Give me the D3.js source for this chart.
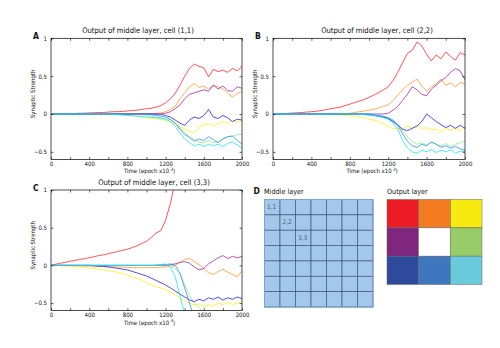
<!DOCTYPE html>
<html>
<head>
<meta charset="utf-8">
<script src="https://cdn.jsdelivr.net/npm/d3@7"></script>
<style>
  body { margin: 0; background: #fff; }
  svg text { font-family: "Liberation Sans Narrow", "DejaVu Sans Condensed", "Arial Narrow", sans-serif; fill: #111; }
</style>
</head>
<body>
<div id="fig"></div>
<script>
var width = 500;
var height = 348;

// sampling of the training run (epochs)
var epochs = [0,50,100,150,200,250,300,350,400,450,
              500,550,600,650,700,750,800,850,900,950,
              1000,1050,1100,1150,1200,1250,1300,1350,1400,1450,
              1500,1550,1600,1650,1700,1750,1800,1850,1900,1950,2000];

// one line per output-layer cell (red, orange, yellow, purple, green, dark blue, blue, cyan)
var lineColors = ["#ff2b2b", "#ff9a30", "#ffee20", "#9a30a8", "#8ee88e", "#2222e6", "#3090f4", "#20e4ee"];

// ---- cell (1,1)
var redA = [0,0,0,0,0.005,0.005,0.01,0.01,0.015,0.015,
            0.02,0.02,0.025,0.03,0.03,0.035,0.04,0.045,0.05,0.06,
            0.07,0.075,0.09,0.11,0.15,0.2,0.27,0.38,0.5,0.6,
            0.66,0.63,0.61,0.49,0.59,0.56,0.58,0.55,0.6,0.57,0.63];
var orangeA = [0,0,0,0,0,0,0,0,0,0,
               0,0,0,0,0,0,0,0,0,0.005,
               0.005,0.005,0.01,0.015,0.03,0.06,0.1,0.2,0.28,0.36,
               0.4,0.35,0.37,0.33,0.38,0.36,0.33,0.28,0.22,0.27,0.3];
var yellowA = [0,0,0,0,0,0,0,0,0,0,
               0,0,0,0,0,-0.005,-0.01,-0.02,-0.03,-0.04,
               -0.05,-0.06,-0.06,-0.07,-0.09,-0.1,-0.13,-0.17,-0.2,-0.23,
               -0.25,-0.18,-0.14,-0.13,-0.16,-0.12,-0.1,-0.12,-0.08,-0.11,-0.09];
var purpleA = [0,0,0,0,0,0,0,0,0,0,
               0,0,0,0,0,0,0,0,0,0,
               0,0,0,0,0.01,0.03,0.07,0.12,0.2,0.26,
               0.28,0.3,0.32,0.3,0.38,0.33,0.37,0.31,0.3,0.36,0.34];
var greenA = [0,0,0,0,0,0,0,0,0,0,
              0,0,0,0,0,0,0,0,0,-0.01,
              -0.02,-0.03,-0.04,-0.05,-0.06,-0.08,-0.12,-0.18,-0.25,-0.3,
              -0.34,-0.37,-0.38,-0.35,-0.38,-0.36,-0.33,-0.3,-0.3,-0.27,-0.27];
var blueA = [0,0,0,0,0,0,0,0,0,0,
             0,0,0,0,0,0,0,0,0,0,
             0,0,0,-0.005,-0.02,-0.04,-0.08,-0.12,-0.15,-0.08,
             -0.04,-0.06,-0.02,0.06,-0.04,-0.06,-0.02,-0.05,-0.1,-0.07,-0.08];
var skyA = [0,0,0,0,0,0,0,0,0,0,
            0,0,0,0,0,0,0,0,0,0,
            0,-0.01,-0.02,-0.03,-0.04,-0.07,-0.12,-0.2,-0.27,-0.31,
            -0.36,-0.33,-0.35,-0.3,-0.34,-0.38,-0.33,-0.3,-0.29,-0.35,-0.4];
var cyanA = [0,0,0,0,0,0,0,0,0,0,
             0,0,0,-0.005,-0.01,-0.015,-0.02,-0.025,-0.03,-0.035,
             -0.04,-0.045,-0.05,-0.06,-0.07,-0.1,-0.16,-0.25,-0.33,-0.38,
             -0.42,-0.4,-0.43,-0.4,-0.42,-0.4,-0.43,-0.39,-0.37,-0.41,-0.45];

// ---- cell (2,2)
var redB = [0,0.002,0.005,0.008,0.012,0.016,0.02,0.025,0.03,0.035,
            0.045,0.055,0.07,0.08,0.09,0.11,0.13,0.15,0.17,0.19,
            0.22,0.25,0.28,0.32,0.36,0.44,0.55,0.68,0.8,0.84,
            0.95,0.9,0.79,0.7,0.78,0.73,0.82,0.76,0.71,0.81,0.78];
var orangeB = [0,0,0,0,0,0,0,0,0,0,
               0,0,0,0,0,0,0.01,0.02,0.03,0.04,
               0.05,0.06,0.08,0.1,0.12,0.18,0.25,0.32,0.38,0.42,
               0.46,0.37,0.3,0.36,0.4,0.46,0.38,0.41,0.36,0.42,0.39];
var yellowB = [0,0,0,0,0,0,0,0,0,0,
               0,-0.005,-0.01,-0.01,-0.015,-0.02,-0.025,-0.03,-0.04,-0.05,
               -0.07,-0.08,-0.1,-0.13,-0.16,-0.2,-0.19,-0.2,-0.16,-0.19,
               -0.14,-0.2,-0.18,-0.21,-0.2,-0.24,-0.19,-0.22,-0.18,-0.22,-0.17];
var purpleB = [0,0,0,0,0,0,0,0,0,0,
               0,0,0,0,0,0,0,0,0,0,
               0,0,0,0,0.01,0.05,0.1,0.18,0.26,0.36,
               0.32,0.26,0.24,0.33,0.38,0.44,0.48,0.55,0.6,0.57,0.45];
var greenB = [0,0,0,0,0,0,0,0,0,0,
              0,0,0,0,0,0,0,0,0,0,
              0,-0.01,-0.02,-0.04,-0.06,-0.09,-0.14,-0.22,-0.3,-0.36,
              -0.4,-0.38,-0.41,-0.37,-0.4,-0.42,-0.39,-0.43,-0.4,-0.38,-0.36];
var blueB = [0,0,0,0,0,0,0,0,0,0,
             0,0,0,0,0,0,0,0,0,-0.005,
             -0.01,-0.02,-0.03,-0.04,-0.06,-0.1,-0.15,-0.2,-0.22,-0.19,
             -0.16,-0.1,0.0,-0.05,-0.1,-0.14,-0.18,-0.15,-0.19,-0.15,-0.19];
var skyB = [0,0,0,0,0,0,0,0,0,0,
            0,0,0,0,0,0,0,0,0,0,
            0,-0.01,-0.02,-0.03,-0.05,-0.08,-0.15,-0.26,-0.36,-0.42,
            -0.44,-0.4,-0.42,-0.37,-0.4,-0.44,-0.42,-0.45,-0.43,-0.46,-0.48];
var cyanB = [0,0,0,0,0,0,0,0,0,0,
             0,0,0,0,0,0,0,0,0,-0.01,
             -0.015,-0.02,-0.03,-0.05,-0.07,-0.12,-0.2,-0.35,-0.45,-0.5,
             -0.52,-0.48,-0.5,-0.47,-0.51,-0.48,-0.5,-0.47,-0.52,-0.49,-0.5];

// ---- cell (3,3)  (NaN = line has left the axes)
var redC = [0,0.015,0.03,0.04,0.055,0.065,0.08,0.09,0.1,0.115,
            0.13,0.14,0.155,0.17,0.185,0.2,0.215,0.235,0.26,0.29,
            0.32,0.37,0.43,0.46,0.6,0.82,1.12,NaN,NaN,NaN,
            NaN,NaN,NaN,NaN,NaN,NaN,NaN,NaN,NaN,NaN,NaN];
var orangeC = [0,0,0,0,0,-0.005,-0.005,-0.01,-0.01,-0.01,
               -0.015,-0.015,-0.02,-0.02,-0.02,-0.025,-0.025,-0.03,-0.03,-0.03,
               -0.03,-0.03,-0.03,-0.025,-0.02,-0.01,0,0.04,0.08,0.09,
               0.05,0.01,-0.04,-0.1,-0.12,-0.08,-0.05,-0.09,-0.12,-0.15,-0.07];
var yellowC = [0,-0.002,-0.005,-0.008,-0.012,-0.017,-0.022,-0.028,-0.035,-0.043,
               -0.05,-0.06,-0.07,-0.08,-0.095,-0.11,-0.13,-0.15,-0.17,-0.2,
               -0.23,-0.26,-0.28,-0.3,-0.32,-0.35,-0.39,-0.43,-0.47,-0.5,
               -0.53,-0.51,-0.55,-0.52,-0.54,-0.5,-0.52,-0.49,-0.52,-0.5,-0.48];
var purpleC = [0,0,0,0,0,0,0,0,0,0,
               0,0,0,0,0,0,0,0,0,0,
               0,0,0,0,0,0.01,0.02,0.04,0.05,0.03,
               -0.02,-0.06,-0.04,0.02,0.06,0.1,0.13,0.09,0.12,0.1,0.12];
var greenC = [0,0,0,0,0,0,0,0,0,0,
              0,0,0,0,0,0,0,0,0,0,
              0,0,0,0.005,0.01,0,-0.04,-0.12,-0.25,-0.4,
              -0.5,-0.56,-0.62,-0.68,NaN,NaN,NaN,NaN,NaN,NaN,NaN];
var blueC = [0,0,0,0,0,0,0,0,0,-0.005,
             -0.01,-0.015,-0.02,-0.03,-0.04,-0.05,-0.06,-0.08,-0.1,-0.12,
             -0.14,-0.17,-0.2,-0.23,-0.26,-0.3,-0.34,-0.38,-0.42,-0.46,
             -0.48,-0.45,-0.47,-0.43,-0.45,-0.42,-0.46,-0.43,-0.45,-0.42,-0.44];
var skyC = [0,0,0,0,0,0,0,0,0,0,
            0,0,0,0,0,0,0,0,0,0,
            0,0,0,0.005,0.01,0.02,0,-0.1,-0.3,-0.5,
            -0.7,NaN,NaN,NaN,NaN,NaN,NaN,NaN,NaN,NaN,NaN];
var cyanC = [0,0,0,0,0,0,0,0,0,0,
             0,0,0,0,0,0,0,0,0,0,
             0,0,0.005,0.01,0.02,-0.02,-0.15,-0.4,-0.65,NaN,
             NaN,NaN,NaN,NaN,NaN,NaN,NaN,NaN,NaN,NaN,NaN];

var xTicks = [0,200,400,600,800,1000,1200,1400,1600,1800,2000];
var yTicks = [-0.5, 0, 0.5, 1];
var yTickLabels = ["\u22120.5", "0", "0.5", "1"];

// diagram of the two layers
var middleCells = 7;
var middleLabels = [{r: 0, c: 0, t: "1,1"}, {r: 1, c: 1, t: "2,2"}, {r: 2, c: 2, t: "3,3"}];
var outputColors = ["#ed1c24", "#f47b20", "#f6ea0f",
                    "#7f277f", "#ffffff", "#98cc68",
                    "#2e4a9c", "#3f77bf", "#69cadc"];

var panels = [
  {letter: "A", title: "Output of middle layer, cell (1,1)", box: [51, 242, 38.3, 159.4], titleX: 138, series: [redA, orangeA, yellowA, purpleA, greenA, blueA, skyA, cyanA]},
  {letter: "B", title: "Output of middle layer, cell (2,2)", box: [273, 465, 38.3, 159.4], titleX: 377, series: [redB, orangeB, yellowB, purpleB, greenB, blueB, skyB, cyanB]},
  {letter: "C", title: "Output of middle layer, cell (3,3)", box: [51, 242, 190, 310.6], titleX: 154, series: [redC, orangeC, yellowC, purpleC, greenC, blueC, skyC, cyanC]}
];

var svg = d3.select("#fig").append("svg")
  .attr("width", width)
  .attr("height", height);

panels.forEach(function(p, pi) {
  var left = p.box[0], right = p.box[1], top = p.box[2], bottom = p.box[3];
  var x = d3.scaleLinear().domain([0, 2000]).range([left, right]);
  var y = d3.scaleLinear().domain([-0.6, 1]).range([bottom, top]);
  var g = svg.append("g");

  g.append("clipPath").attr("id", "clip" + pi)
    .append("rect")
    .attr("x", left).attr("y", top)
    .attr("width", right - left).attr("height", bottom - top);

  var line = d3.line()
    .defined(function(d) { return !isNaN(d[1]); })
    .x(function(d) { return x(d[0]); })
    .y(function(d) { return y(d[1]); });

  g.append("g").attr("clip-path", "url(#clip" + pi + ")")
    .selectAll("path")
    .data(p.series)
    .enter()
    .append("path")
    .attr("fill", "none")
    .attr("stroke", function(d, i) { return lineColors[i]; })
    .attr("stroke-width", 0.8)
    .attr("d", function(vals) {
      return line(vals.map(function(v, i) { return [epochs[i], v]; }));
    });

  // axes, ticks pointing inward on all four sides
  var xAxis = d3.axisBottom(x).tickValues(xTicks)
    .tickFormat(function(d) { return d % 400 === 0 ? d : ""; })
    .tickSizeInner(-2.5).tickSizeOuter(0).tickPadding(2);
  var xAxisTop = d3.axisTop(x).tickValues(xTicks).tickFormat("")
    .tickSizeInner(-2.5).tickSizeOuter(0);
  var yAxis = d3.axisLeft(y).tickValues(yTicks)
    .tickFormat(function(d, i) { return yTickLabels[i]; })
    .tickSizeInner(-2.5).tickSizeOuter(0).tickPadding(4);
  var yAxisRight = d3.axisRight(y).tickValues(yTicks).tickFormat("")
    .tickSizeInner(-2.5).tickSizeOuter(0);

  [[xAxis, "translate(0," + bottom + ")"], [xAxisTop, "translate(0," + top + ")"],
   [yAxis, "translate(" + left + ",0)"], [yAxisRight, "translate(" + right + ",0)"]].forEach(function(a) {
    var ax = g.append("g").attr("transform", a[1]).call(a[0]);
    ax.select(".domain").remove();
    ax.selectAll("line").attr("stroke", "#000").attr("stroke-width", 0.6);
    ax.selectAll("text").style("font-size", "6px").attr("fill", "#111");
  });

  g.append("rect")
    .attr("x", left).attr("y", top)
    .attr("width", right - left).attr("height", bottom - top)
    .attr("fill", "none").attr("stroke", "#000").attr("stroke-width", 0.7);

  g.append("text")
    .attr("x", p.titleX).attr("y", top - 5)
    .attr("text-anchor", "middle")
    .style("font-size", "7.6px")
    .text(p.title);

  g.append("text")
    .attr("x", left - 18).attr("y", top + 1)
    .style("font-size", "8.5px").style("font-weight", "bold")
    .text(p.letter);

  g.append("text")
    .attr("transform", "translate(" + (left - 16.5) + "," + ((top + bottom) / 2 - 5) + ") rotate(-90)")
    .attr("text-anchor", "middle")
    .style("font-size", "6px")
    .text("Synaptic Strength");

  var xl = g.append("text")
    .attr("x", (left + right) / 2 + 3).attr("y", bottom + 14)
    .attr("text-anchor", "middle")
    .style("font-size", "6px");
  xl.append("tspan").text("Time (epoch x10");
  xl.append("tspan").attr("dy", -2.2).style("font-size", "4.5px").text(" 3");
  xl.append("tspan").attr("dy", 2.2).text(")");
});

// ---- D: middle layer grid
var mx = d3.scaleBand().domain(d3.range(middleCells)).range([264.5, 373]);
var my = d3.scaleBand().domain(d3.range(middleCells)).range([199.5, 307]);

svg.append("text").attr("x", 253.5).attr("y", 194)
  .style("font-size", "8.5px").style("font-weight", "bold").text("D");
svg.append("text").attr("x", 264).attr("y", 193.5)
  .style("font-size", "7.2px").text("Middle layer");

var mid = svg.append("g");
var cells = [];
d3.range(middleCells).forEach(function(r) {
  d3.range(middleCells).forEach(function(c) { cells.push({r: r, c: c}); });
});
mid.selectAll("rect")
  .data(cells)
  .enter()
  .append("rect")
  .attr("x", function(d) { return mx(d.c); })
  .attr("y", function(d) { return my(d.r); })
  .attr("width", mx.bandwidth())
  .attr("height", my.bandwidth())
  .attr("fill", "#a4c8ec")
  .attr("stroke", "#3e5a7a")
  .attr("stroke-width", 0.7);
mid.append("rect")
  .attr("x", 264.5).attr("y", 199.5)
  .attr("width", 373 - 264.5).attr("height", 307 - 199.5)
  .attr("fill", "none").attr("stroke", "#7ea3cc").attr("stroke-width", 1);
mid.selectAll("text")
  .data(middleLabels)
  .enter()
  .append("text")
  .attr("x", function(d) { return mx(d.c) + 2.5; })
  .attr("y", function(d) { return my(d.r) + 9.5; })
  .style("font-size", "6.5px")
  .style("fill", "#506070")
  .text(function(d) { return d.t; });

// ---- output layer
var ox = d3.scaleBand().domain([0, 1, 2]).range([387, 482]);
var oy = d3.scaleBand().domain([0, 1, 2]).range([199.5, 284.5]);

svg.append("text").attr("x", 387).attr("y", 193.5)
  .style("font-size", "7.2px").text("Output layer");

svg.append("g").selectAll("rect")
  .data(outputColors)
  .enter()
  .append("rect")
  .attr("x", function(d, i) { return ox(i % 3); })
  .attr("y", function(d, i) { return oy(Math.floor(i / 3)); })
  .attr("width", ox.bandwidth())
  .attr("height", oy.bandwidth())
  .attr("fill", function(d) { return d; })
  .attr("stroke", "#666")
  .attr("stroke-width", 0.5);
</script>
</body>
</html>
